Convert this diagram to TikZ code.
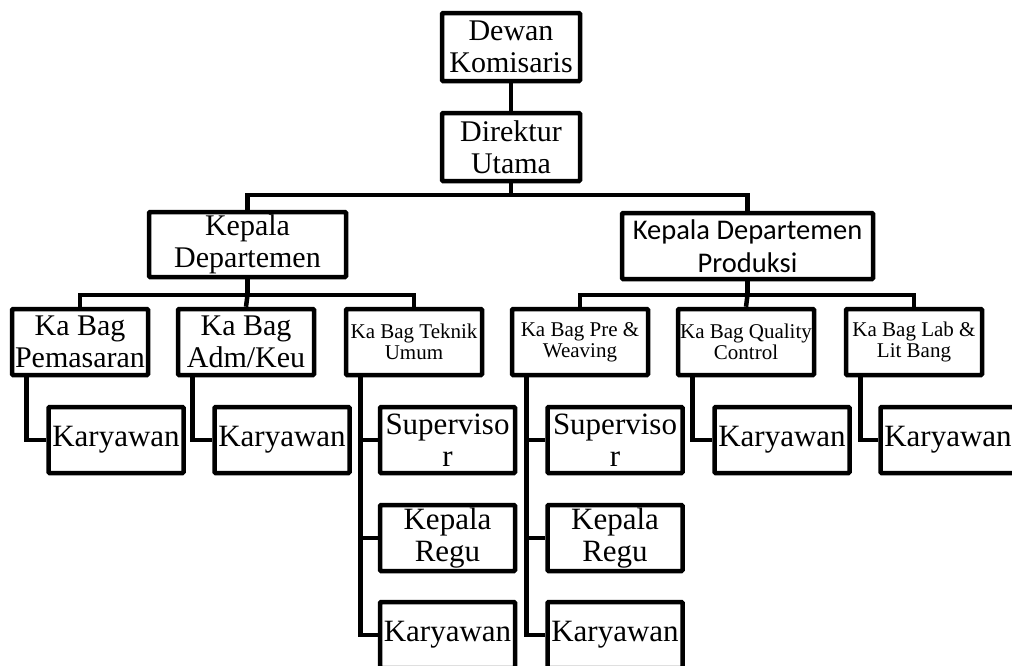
\documentclass[tikz,border=0pt]{standalone}
\usepackage{fontspec}
\setmainfont{Liberation Serif}
\newfontfamily\calibrifont{Carlito}
\usetikzlibrary{calc}
\begin{document}
\begin{tikzpicture}[x=1pt,y=-1pt,
  orgbox/.style={draw,line width=4.5pt,inner sep=0pt,align=center,fill=white,rounded corners=1pt},
  big/.style={font=\fontsize{30}{32}\selectfont},
  bigger/.style={font=\fontsize{31}{32}\selectfont},
  small/.style={font=\fontsize{21}{21}\selectfont},
  sans/.style={font=\calibrifont\fontsize{28.5}{33}\selectfont},
  top/.style={minimum width=138pt,minimum height=68pt},
  kabag/.style={minimum width=136pt,minimum height=66pt},
  staff/.style={minimum width=135pt,minimum height=66pt},
  conn/.style={line width=4.5pt}]
\useasboundingbox (0,0) rectangle (1012,665);
\clip (0,0) rectangle (1012,665);

% level 1-2
\node[orgbox,big,top] (dk) at (511,47) {Dewan\\Komisaris};
\node[orgbox,big,top] (du) at (511,147) {Direktur\\Utama};

% level 3 departments
\node[orgbox,big,minimum width=197pt,minimum height=65pt] (kdl) at (247.5,244.5) {Kepala\\Departemen};
\node[orgbox,sans,minimum width=251pt,minimum height=66pt] (kdp) at (747.5,246) {Kepala Departemen\\Produksi};

% level 4 Ka Bag
\node[orgbox,big,kabag] (kb1) at (80,342) {Ka Bag\\Pemasaran};
\node[orgbox,big,kabag] (kb2) at (246,342) {Ka Bag\\Adm/Keu};
\node[orgbox,small,kabag] (kb3) at (414,342) {Ka Bag Teknik\\Umum};
\node[orgbox,small,kabag] (kb4) at (580,342) {Ka Bag Pre \&\\Weaving};
\node[orgbox,small,kabag] (kb5) at (746,342) {Ka Bag Quality\\Control};
\node[orgbox,small,kabag] (kb6) at (914,342) {Ka Bag Lab \&\\Lit Bang};

% level 5 staff
\node[orgbox,bigger,staff] (ky1) at (116,440) {Karyawan};
\node[orgbox,bigger,staff] (ky2) at (282,440) {Karyawan};
\node[orgbox,bigger,staff] (sv3) at (447.5,440) {Superviso\\r};
\node[orgbox,bigger,staff] (kr3) at (447.5,538) {Kepala\\Regu};
\node[orgbox,bigger,staff] (ky3) at (447.5,635) {Karyawan};
\node[orgbox,bigger,staff] (sv4) at (615,440) {Superviso\\r};
\node[orgbox,bigger,staff] (kr4) at (615,538) {Kepala\\Regu};
\node[orgbox,bigger,staff] (ky4) at (615,635) {Karyawan};
\node[orgbox,bigger,staff] (ky5) at (782,440) {Karyawan};
\node[orgbox,bigger,staff] (ky6) at (948,440) {Karyawan};

% connectors
\coordinate (b1) at (511,195);
\coordinate (b2) at (247.5,295);
\coordinate (b3) at (747.5,295);
\draw[conn] (dk.south) -- (du.south |- du.north);
\draw[conn] (du.south) -- (b1);
\draw[conn] (kdl.north) |- (b1) -| (kdp.north);
\draw[conn] (kdl.south) -- (b2);
\draw[conn] (kb1.north) |- (b2) -| (kb3.north);
\draw[conn] (b2) -- (kb2.north);
\draw[conn] (kdp.south) -- (b3);
\draw[conn] (kb4.north) |- (b3) -| (kb6.north);
\draw[conn] (b3) -- (kb5.north);

\foreach \p/\c in {kb1/ky1,kb2/ky2,kb3/sv3,kb3/kr3,kb3/ky3,kb4/sv4,kb4/kr4,kb4/ky4,kb5/ky5,kb6/ky6}{
  \draw[conn] ($(\p.south)+(-53.5,0)$) |- (\c.west);
}
\end{tikzpicture}
\end{document}
